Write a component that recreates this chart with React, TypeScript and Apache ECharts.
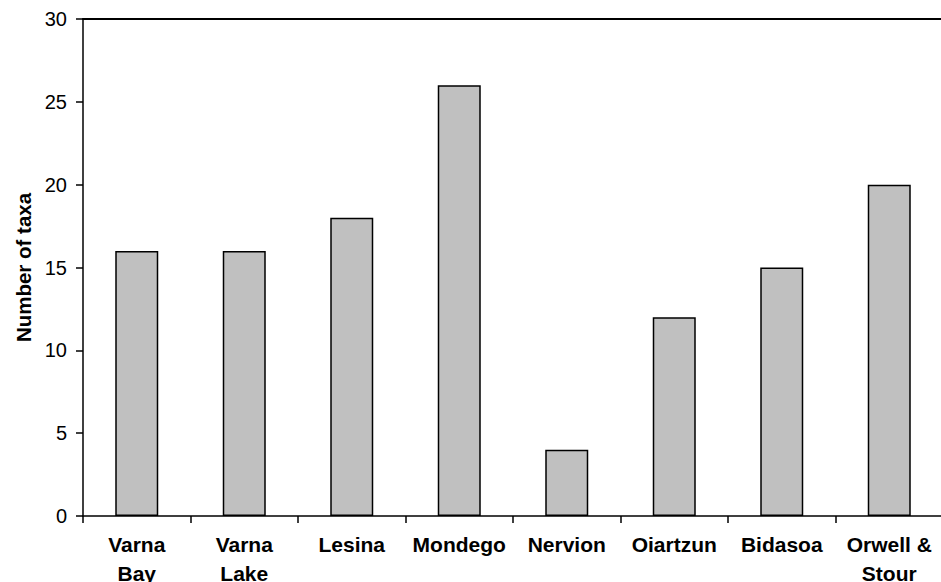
import React, { useEffect, useRef } from "react";
import * as echarts from "echarts";

const categories = ["Varna\nBay", "Varna\nLake", "Lesina", "Mondego", "Nervion", "Oiartzun", "Bidasoa", "Orwell &\nStour"];
const taxa = [16, 16, 18, 26, 4, 12, 15, 20];
const yTicks = { min: 0, max: 30, interval: 5 };

const FONT = "'Liberation Sans', Arial, sans-serif";

export default function App() {
  const ref = useRef<HTMLDivElement>(null);
  useEffect(() => {
    if (!ref.current) return;
    const chart = echarts.init(ref.current, null, { renderer: "svg" });
    chart.setOption({
      animation: false,
      backgroundColor: "#ffffff",
      grid: { left: 83, top: 19, width: 860, height: 497, containLabel: false, outerBoundsMode: "none" },
      xAxis: [
        {
          type: "category",
          data: categories,
          boundaryGap: true,
          axisLine: { show: true, lineStyle: { color: "#000", width: 1.5 } },
          axisTick: { show: true, alignWithLabel: false, length: 7, lineStyle: { color: "#000", width: 1.5 } },
          axisLabel: {
            interval: 0,
            margin: 14,
            color: "#000",
            fontFamily: FONT,
            fontWeight: "bold",
            fontSize: 21,
            lineHeight: 29,
          },
          splitLine: { show: false },
        },
        {
          type: "category",
          data: categories,
          position: "top",
          axisLine: { show: true, lineStyle: { color: "#000", width: 2 } },
          axisTick: { show: false },
          axisLabel: { show: false },
        },
      ],
      yAxis: {
        type: "value",
        min: yTicks.min,
        max: yTicks.max,
        interval: yTicks.interval,
        name: "Number of taxa",
        nameLocation: "middle",
        nameGap: 48,
        nameTextStyle: { color: "#000", fontFamily: FONT, fontWeight: "bold", fontSize: 20.5 },
        axisLine: { show: true, lineStyle: { color: "#000", width: 1.5 } },
        axisTick: { show: true, length: 7, lineStyle: { color: "#000", width: 1.5 } },
        axisLabel: { color: "#000", fontFamily: FONT, fontSize: 20, margin: 16 },
        splitLine: { show: false },
      },
      series: [
        {
          type: "bar",
          data: taxa,
          barWidth: "40%",
          itemStyle: { color: "#c0c0c0", borderColor: "#000", borderWidth: 1.5 },
        },
      ],
    });
    return () => chart.dispose();
  }, []);
  return (
    <div
      ref={ref}
      style={{ position: "absolute", left: 0, top: 0, width: 941, height: 582 }}
    />
  );
}
